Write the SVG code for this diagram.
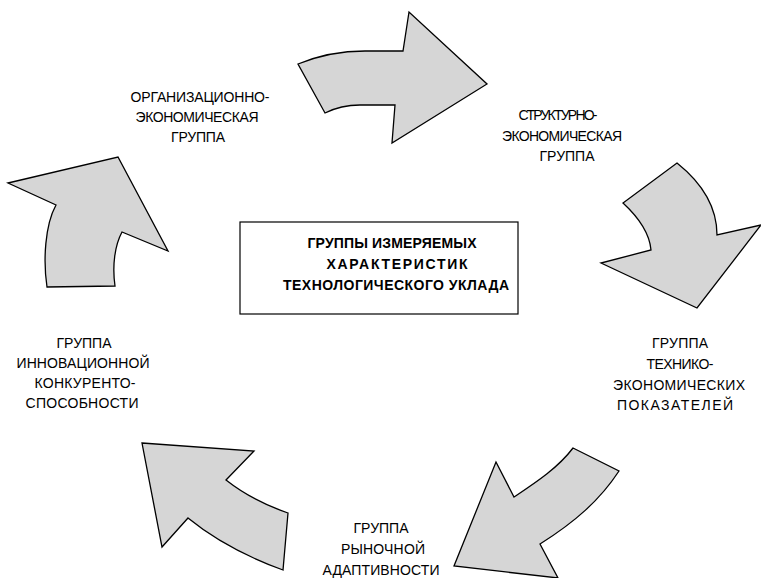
<svg xmlns="http://www.w3.org/2000/svg" width="761" height="578" viewBox="0 0 761 578">
<style>
.arr{fill:#d6d6d6;stroke:#000;stroke-width:1.3;stroke-linejoin:miter}
.lbl{font-family:"Liberation Sans",Arial,sans-serif;font-size:14px;fill:#000;text-anchor:middle}
.ttl{font-family:"Liberation Sans",Arial,sans-serif;font-size:14px;font-weight:bold;fill:#000;text-anchor:middle}
</style>
<rect width="761" height="578" fill="#fff"/>
<g id="connectors">
<path id="arrow-top" class="arr" d="M298,64 C320,55 340,51 365,51 L403,51 L409,12 L487,84 L392,143 L395,105 L360,105 C345,105 335,108 325,113 Z"/>
<path id="arrow-right" class="arr" d="M677,163 Q717,195 717,235 L761,225 L697,308 L601,263 L651,250 Q649,227 623,203 Z"/>
<path id="arrow-bottom-right" class="arr" d="M573,448 L619,471 C600,500 575,522 540,544 L558,578 L454,566 L496,462 L514,497 C535,483 558,468 573,448 Z"/>
<path id="arrow-bottom-left" class="arr" d="M142,443 L254,451 L226,480 C245,495 265,505 288,513 L283,570 C250,558 215,540 188,518 L162,547 Z"/>
<path id="arrow-left" class="arr" d="M8,183 L118,157 L168,251 L122,232 C115,245 112,265 115,286 L47,287 C43,260 45,225 56,205 Z"/>
</g>
<g id="center">
<rect x="240" y="222" width="278" height="92" fill="#fff" stroke="#000" stroke-width="1.2"/>
<text class="ttl" x="392" y="248" textLength="169">ГРУППЫ ИЗМЕРЯЕМЫХ</text>
<text class="ttl" x="397" y="269" textLength="141">ХАРАКТЕРИСТИК</text>
<text class="ttl" x="396" y="290" textLength="226">ТЕХНОЛОГИЧЕСКОГО УКЛАДА</text>
</g>
<g id="org-econ">
<text class="lbl" x="200" y="102" textLength="139">ОРГАНИЗАЦИОННО-</text>
<text class="lbl" x="197" y="122" textLength="123">ЭКОНОМИЧЕСКАЯ</text>
<text class="lbl" x="198" y="142" textLength="54">ГРУППА</text>
</g>
<g id="struct-econ">
<text class="lbl" x="558" y="120" textLength="79">СТРУКТУРНО-</text>
<text class="lbl" x="562" y="141" textLength="120">ЭКОНОМИЧЕСКАЯ</text>
<text class="lbl" x="567" y="161" textLength="55">ГРУППА</text>
</g>
<g id="tech-econ">
<text class="lbl" x="680" y="348" textLength="56">ГРУППА</text>
<text class="lbl" x="680" y="369" textLength="67">ТЕХНИКО-</text>
<text class="lbl" x="679" y="390" textLength="132">ЭКОНОМИЧЕСКИХ</text>
<text class="lbl" x="675" y="410" textLength="116">ПОКАЗАТЕЛЕЙ</text>
</g>
<g id="market">
<text class="lbl" x="381" y="533" textLength="55">ГРУППА</text>
<text class="lbl" x="383" y="554" textLength="84">РЫНОЧНОЙ</text>
<text class="lbl" x="381" y="575" textLength="117">АДАПТИВНОСТИ</text>
</g>
<g id="innov">
<text class="lbl" x="84" y="348" textLength="55">ГРУППА</text>
<text class="lbl" x="83" y="368" textLength="133">ИННОВАЦИОННОЙ</text>
<text class="lbl" x="85" y="388" textLength="101">КОНКУРЕНТО-</text>
<text class="lbl" x="82" y="408" textLength="113">СПОСОБНОСТИ</text>
</g>
</svg>
